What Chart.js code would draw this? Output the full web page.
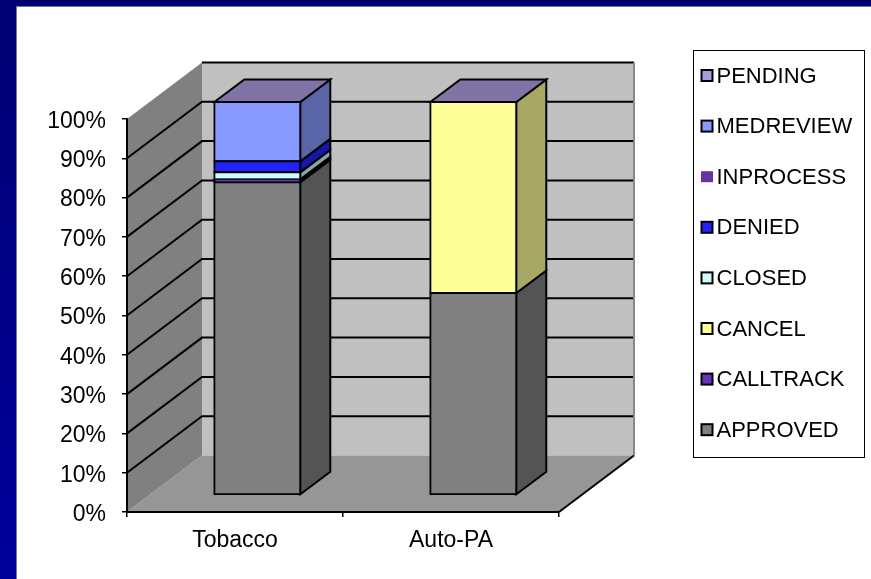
<!DOCTYPE html>
<html>
<head>
<meta charset="utf-8">
<style>html,body{margin:0;padding:0;background:#fff}canvas{display:block}</style>
<script src="https://cdn.jsdelivr.net/npm/chart.js@4/dist/chart.umd.min.js"></script>
</head>
<body>
<canvas id="c" width="871" height="579"></canvas>
<script>
const categories = ["Tobacco", "Auto-PA"];
const approved  = [79.6, 51.4];
const calltrack = [0.7, 0];
const cancel    = [0, 48.6];
const closed    = [1.8, 0];
const denied    = [2.8, 0];
const inprocess = [0, 0];
const medreview = [15.1, 0];
const pending   = [0, 0];
const yTicks = [0, 10, 20, 30, 40, 50, 60, 70, 80, 90, 100];

const FONT = '"Liberation Sans", Arial, sans-serif';
const seriesStyle = [
  { label: "APPROVED",  data: approved,  color: "#808080" },
  { label: "CALLTRACK", data: calltrack, color: "#6633BB" },
  { label: "CANCEL",    data: cancel,    color: "#FFFF99" },
  { label: "CLOSED",    data: closed,    color: "#CCFFFF" },
  { label: "DENIED",    data: denied,    color: "#2222FF" },
  { label: "INPROCESS", data: inprocess, color: "#6633A5", noBorder: true },
  { label: "MEDREVIEW", data: medreview, color: "#8899FF" },
  { label: "PENDING",   data: pending,   color: "#AA99DD" }
];

function shade(hex, k) {
  const n = parseInt(hex.slice(1), 16);
  const f = s => Math.round(((n >> s) & 255) * k);
  return `rgb(${f(16)},${f(8)},${f(0)})`;
}
function poly(ctx, pts, fill, stroke, lw) {
  ctx.beginPath();
  pts.forEach((p, i) => i ? ctx.lineTo(p[0], p[1]) : ctx.moveTo(p[0], p[1]));
  ctx.closePath();
  if (fill) { ctx.fillStyle = fill; ctx.fill(); }
  if (stroke) { ctx.strokeStyle = stroke; ctx.lineWidth = lw; ctx.lineJoin = "miter"; ctx.stroke(); }
}

const WALL_DX = 75, WALL_DY = 56.5;
const BAR_SHIFT_X = 22.3, BAR_SHIFT_Y = 17;
const BAR_DX = 30, BAR_DY = 22.5;

const scene = {
  id: "scene",
  beforeDraw(chart) {
    const { ctx, scales: { x, y }, width, height } = chart;
    const L = x.left, R = x.right, T = y.getPixelForValue(100), B = y.getPixelForValue(0);
    ctx.save();
    const g = ctx.createLinearGradient(0, 0, 0, height);
    g.addColorStop(0, "#000072");
    g.addColorStop(1, "#00009C");
    ctx.fillStyle = g;
    ctx.fillRect(0, 0, width, height);
    ctx.fillStyle = "#77778F";
    ctx.fillRect(16, 6, width - 16, height - 6);
    ctx.fillStyle = "#FFFFFF";
    ctx.fillRect(17, 7, width - 17, height - 7);

    poly(ctx, [[L + WALL_DX, T - WALL_DY], [R + WALL_DX, T - WALL_DY], [R + WALL_DX, B - WALL_DY], [L + WALL_DX, B - WALL_DY]], "#C0C0C0");
    poly(ctx, [[L, T], [L + WALL_DX, T - WALL_DY], [L + WALL_DX, B - WALL_DY], [L, B]], "#808080");
    poly(ctx, [[L, B], [R, B], [R + WALL_DX, B - WALL_DY], [L + WALL_DX, B - WALL_DY]], "#969696");

    ctx.lineCap = "butt";
    yTicks.forEach(v => {
      if (v === 0) return;
      const py = y.getPixelForValue(v);
      ctx.strokeStyle = "#000";
      ctx.lineWidth = 2;
      ctx.beginPath();
      if (v < 100) {
        ctx.moveTo(L, py);
        ctx.lineTo(L + WALL_DX, py - WALL_DY);
      } else {
        ctx.moveTo(L + WALL_DX, py - WALL_DY);
      }
      ctx.lineTo(R + WALL_DX, py - WALL_DY);
      ctx.stroke();
    });
    ctx.strokeStyle = "#888";
    ctx.lineWidth = 2;
    ctx.beginPath();
    ctx.moveTo(R + WALL_DX, T - WALL_DY);
    ctx.lineTo(R + WALL_DX, B - WALL_DY);
    ctx.stroke();
    ctx.strokeStyle = "#000";
    ctx.beginPath();
    ctx.moveTo(R, B);
    ctx.lineTo(R + WALL_DX, B - WALL_DY);
    ctx.stroke();
    ctx.restore();
  },
  beforeDatasetsDraw(chart) {
    const { ctx } = chart;
    ctx.save();
    ctx.translate(BAR_SHIFT_X, -BAR_SHIFT_Y);
    const n = chart.data.datasets.length;
    categories.forEach((_, j) => {
      for (let i = 0; i < n; i++) {
        const el = chart.getDatasetMeta(i).data[j];
        if (chart.data.datasets[i].data[j] <= 0) continue;
        const r = el.x + el.width / 2;
        poly(ctx, [[r, el.y], [r + BAR_DX, el.y - BAR_DY], [r + BAR_DX, el.base - BAR_DY], [r, el.base]],
          shade(chart.data.datasets[i].backgroundColor, 0.66), "#000", 2);
      }
      const last = chart.getDatasetMeta(n - 1).data[j];
      const l = last.x - last.width / 2, r = last.x + last.width / 2;
      poly(ctx, [[l, last.y], [l + BAR_DX, last.y - BAR_DY], [r + BAR_DX, last.y - BAR_DY], [r, last.y]],
        shade(chart.data.datasets[n - 1].backgroundColor, 0.75), "#000", 2);
    });
  },
  afterDatasetsDraw(chart) {
    chart.ctx.restore();
  },
  afterDraw(chart) {
    const { ctx } = chart;
    const boxL = 693, boxT = 50, boxW = 171, boxH = 407;
    ctx.save();
    ctx.strokeStyle = "#000";
    ctx.lineWidth = 1;
    ctx.strokeRect(boxL + 0.5, boxT + 0.5, boxW, boxH);
    ctx.font = "22px " + FONT;
    ctx.textBaseline = "middle";
    ctx.textAlign = "left";
    const ds = chart.data.datasets;
    for (let i = ds.length - 1, row = 0; i >= 0; i--, row++) {
      const cy = 75.5 + row * 50.6;
      ctx.fillStyle = ds[i].backgroundColor;
      if (ds[i].noBorder) {
        ctx.fillRect(701, cy - 5.5, 12, 11);
      } else {
        ctx.fillRect(701.5, cy - 5.5, 11, 11);
        ctx.strokeStyle = "#000";
        ctx.lineWidth = 2;
        ctx.strokeRect(701.5, cy - 5.5, 11, 11);
      }
      ctx.fillStyle = "#000";
      ctx.fillText(ds[i].label, 716.5, cy + 1);
    }
    ctx.restore();
  }
};

new Chart(document.getElementById("c"), {
  type: "bar",
  data: {
    labels: categories,
    datasets: seriesStyle.map(s => ({
      label: s.label,
      data: s.data,
      backgroundColor: s.color,
      borderColor: "#000",
      borderWidth: 2,
      borderSkipped: false,
      inflateAmount: 1,
      noBorder: !!s.noBorder,
      categoryPercentage: 1,
      barPercentage: 0.398
    }))
  },
  options: {
    responsive: false,
    animation: false,
    layout: { padding: { top: 119, right: 312, left: 0, bottom: 0 } },
    plugins: { legend: { display: false }, tooltip: { enabled: false }, title: { display: false } },
    scales: {
      x: {
        stacked: true,
        afterFit: s => { s.height = 67; },
        grid: { drawOnChartArea: false, tickLength: 5, color: "#000", lineWidth: 1.5 },
        border: { color: "#000", width: 2 },
        ticks: { color: "#000", font: { family: FONT, size: 23 }, padding: 10, maxRotation: 0 }
      },
      y: {
        stacked: true,
        min: 0,
        max: 100,
        afterFit: s => { s.width = 127; },
        afterBuildTicks: s => { s.ticks = yTicks.map(v => ({ value: v })); },
        grid: { drawOnChartArea: false, tickLength: 5, color: "#000", lineWidth: 1.5 },
        border: { color: "#000", width: 2 },
        ticks: { color: "#000", font: { family: FONT, size: 23 }, padding: 16, labelOffset: 2.5, callback: v => v + "%" }
      }
    }
  },
  plugins: [scene]
});
</script>
</body>
</html>
